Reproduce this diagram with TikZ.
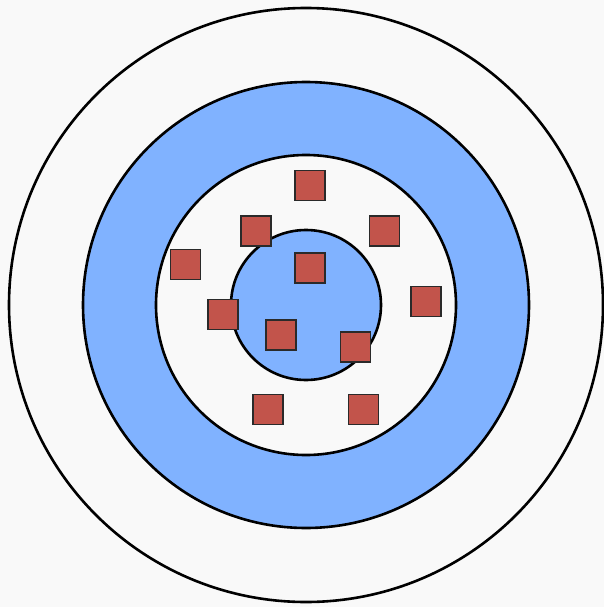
\documentclass[tikz,border=0pt]{standalone}
\usetikzlibrary{positioning}
\definecolor{Paper}{HTML}{F9F9F9}
\definecolor{Ring}{HTML}{80B2FF}
\definecolor{Brick}{HTML}{C2544B}
\definecolor{Edge}{HTML}{2A2A2A}
\tikzset{ring/.style={draw=black,line width=2.6pt},
  token/.style={draw=Edge,fill=Brick,line width=1.2pt,minimum size=30pt,
    inner sep=0pt,rectangle}}

\begin{document}
\begin{tikzpicture}[x=1pt,y=-1pt]
    \fill[Paper] (0,0) rectangle (604,607);
    \useasboundingbox (0,0) rectangle (604,607);
    \coordinate (o) at (306,305);
    % rings, outside in
    \draw[ring,fill=Paper] (o) circle[radius=297];
    \draw[ring,fill=Ring] (o) circle[radius=223];
    \draw[ring,fill=Paper] (o) circle[radius=150];
    \draw[ring,fill=Ring] (o) circle[radius=75];
    % tokens
    \node[token] (t1) at (310,185.5) {};
    \node[token] (t2) at (256,231) {};
    \node[token] (t3) at (384.5,231) {};
    \node[token] (t4) at (185.5,264.5) {};
    \node[token] (t5) at (310,268) {};
    \node[token] (t6) at (426,301.5) {};
    \node[token] (t7) at (223,314.5) {};
    \node[token] (t8) at (281,335) {};
    \node[token] (t9) at (355.5,347) {};
    \node[token] (t10) at (268,409.5) {};
    \node[token] (t11) at (363.5,409.5) {};
\end{tikzpicture}
\end{document}
